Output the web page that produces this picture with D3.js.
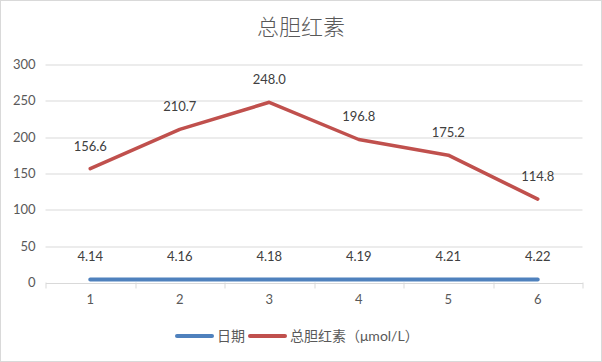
<!DOCTYPE html>
<html lang="zh">
<head>
    <meta charset="UTF-8">
    <title>总胆红素</title>
    <script src="https://d3js.org/d3.v7.min.js"></script>
    <style>
        body { margin: 0; background: #fff; }
        text { font-family: "Lato", "Noto Sans CJK SC", sans-serif; }
    </style>
</head>
<body>
    <svg></svg>
    <script>
        const categories = ["1", "2", "3", "4", "5", "6"];
        const dateValues = [4.14, 4.16, 4.18, 4.19, 4.21, 4.22];
        const bilirubinValues = [156.6, 210.7, 248.0, 196.8, 175.2, 114.8];
        const yTicks = [0, 50, 100, 150, 200, 250, 300];
        const seriesNames = ["日期", "总胆红素（μmol/L）"];

        const width = 602;
        const height = 362;
        const margin = {top: 64.5, right: 20, bottom: 79.5, left: 45.5};
        const plotW = 582.5 - margin.left;
        const plotH = height - margin.top - margin.bottom;

        const svg = d3.select("svg")
            .attr("width", width)
            .attr("height", height);

        // outer border
        svg.append("rect")
            .attr("x", 0.5).attr("y", 0.5)
            .attr("width", width - 1).attr("height", height - 1)
            .attr("fill", "#fff")
            .attr("stroke", "#D9D9D9");

        svg.append("text")
            .attr("x", width / 2)
            .attr("y", 35)
            .attr("text-anchor", "middle")
            .attr("font-size", 22)
            .attr("font-weight", 300)
            .style("font-family", "'Noto Sans CJK SC', sans-serif")
            .attr("fill", "#595959")
            .text("总胆红素");

        const g = svg.append("g")
            .attr("transform", `translate(${margin.left},${margin.top})`);

        const x = d3.scaleBand()
            .domain(categories)
            .range([0, plotW]);

        const y = d3.scaleLinear()
            .domain([0, 300])
            .range([plotH, 0]);

        // gridlines
        g.selectAll(".grid")
            .data(yTicks.filter(d => d > 0))
            .enter()
            .append("line")
            .attr("x1", 0).attr("x2", plotW)
            .attr("y1", d => Math.round(y(d)) + 0.5)
            .attr("y2", d => Math.round(y(d)) + 0.5)
            .attr("stroke", "#D9D9D9");

        // y labels
        g.selectAll(".ylab")
            .data(yTicks)
            .enter()
            .append("text")
            .attr("x", -10)
            .attr("y", d => y(d))
            .attr("dy", "0.35em")
            .attr("text-anchor", "end")
            .attr("font-size", 13)
            .attr("fill", "#595959")
            .text(d => d);

        // x axis
        const xAxis = g.append("g")
            .attr("transform", `translate(0,${Math.round(plotH) + 0.5})`)
            .call(d3.axisBottom(x).tickSize(0).tickPadding(12));
        xAxis.select(".domain").attr("stroke", "#D9D9D9");
        xAxis.selectAll("text")
            .attr("font-size", 13)
            .attr("fill", "#595959")
            .style("font-family", "Lato, 'Noto Sans CJK SC', sans-serif");

        // category boundary ticks
        const bounds = categories.map(c => x(c)).concat([plotW]);
        g.selectAll(".xtick")
            .data(bounds)
            .enter()
            .append("line")
            .attr("x1", d => Math.round(d) + 0.5)
            .attr("x2", d => Math.round(d) + 0.5)
            .attr("y1", Math.round(plotH))
            .attr("y2", Math.round(plotH) + 6)
            .attr("stroke", "#D9D9D9");

        const cx = c => x(c) + x.bandwidth() / 2;

        const line = d3.line()
            .x((d, i) => cx(categories[i]))
            .y(d => y(d));

        const series = [
            {name: seriesNames[0], values: dateValues, color: "#4F81BD", width: 4, fmt: d3.format(".2f")},
            {name: seriesNames[1], values: bilirubinValues, color: "#C0504D", width: 3.5, fmt: d3.format(".1f")}
        ];

        series.forEach(s => {
            g.append("path")
                .datum(s.values)
                .attr("d", line)
                .attr("fill", "none")
                .attr("stroke", s.color)
                .attr("stroke-width", s.width)
                .attr("stroke-linecap", "round")
                .attr("stroke-linejoin", "round");

            g.selectAll(null)
                .data(s.values)
                .enter()
                .append("text")
                .attr("x", (d, i) => cx(categories[i]))
                .attr("y", d => y(d) - 18)
                .attr("text-anchor", "middle")
                .attr("font-size", 13)
                .attr("fill", "#404040")
                .text(d => s.fmt(d));
        });

        // legend
        const legend = svg.append("g").attr("transform", "translate(0,336)");
        const legendX = [177, 250];
        series.forEach((s, i) => {
            legend.append("line")
                .attr("x1", legendX[i]).attr("x2", legendX[i] + 35)
                .attr("y1", 0).attr("y2", 0)
                .attr("stroke", s.color)
                .attr("stroke-width", 4)
                .attr("stroke-linecap", "round");
            legend.append("text")
                .attr("x", legendX[i] + 40)
                .attr("y", 0)
                .attr("dy", "0.35em")
                .attr("font-size", 14)
                .attr("fill", "#595959")
                .text(s.name);
        });
    </script>
</body>
</html>
